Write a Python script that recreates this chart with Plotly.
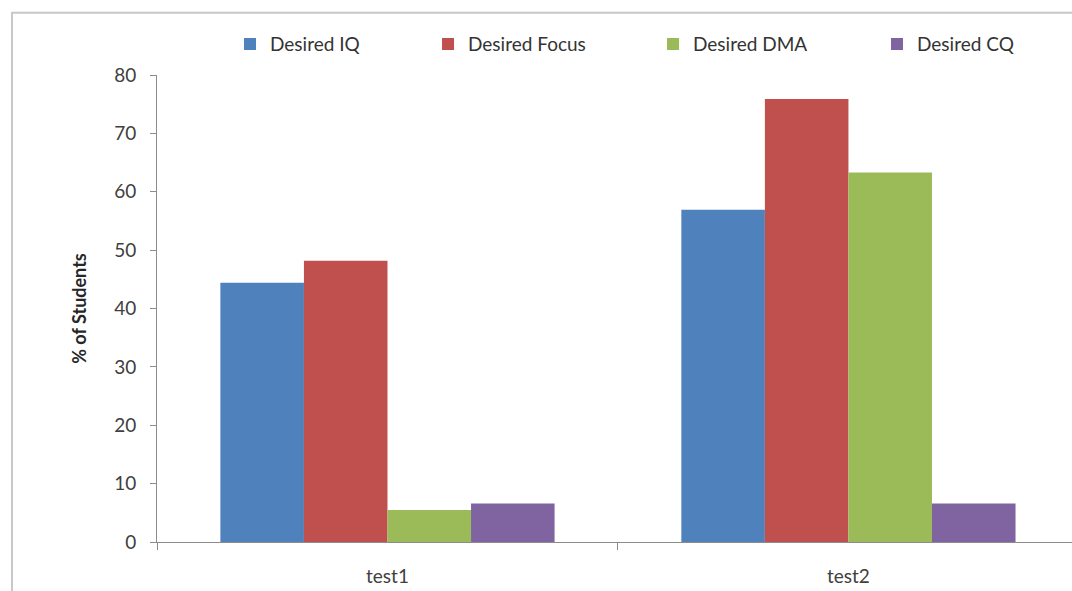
import plotly.graph_objects as go

# Survey results: share of students per desired trait, for two tests
categories = ["test1", "test2"]
desired_iq = [44.4, 56.9]
desired_focus = [48.2, 75.9]
desired_dma = [5.5, 63.3]
desired_cq = [6.6, 6.6]

y_ticks = [0, 10, 20, 30, 40, 50, 60, 70, 80]

series = [
    ("Desired IQ", desired_iq, "#4F81BD"),
    ("Desired Focus", desired_focus, "#C0504D"),
    ("Desired DMA", desired_dma, "#9BBB59"),
    ("Desired CQ", desired_cq, "#8064A2"),
]

# each series gets its own legend box so the entries can be spaced freely
legend_ids = ["legend", "legend2", "legend3", "legend4"]
legend_x = [0.0798, 0.2962, 0.5421, 0.7869]

fig = go.Figure()
for (name, values, color), lid in zip(series, legend_ids):
    fig.add_trace(go.Bar(
        x=categories, y=values, name=name, legend=lid,
        marker=dict(color=color, line=dict(width=0)),
    ))

font_family = "Lato, 'Open Sans', sans-serif"
axis_color = "#8c8c8c"

legend_style = dict(
    orientation="h", xanchor="left", y=1.066, yanchor="middle",
    font=dict(family=font_family, size=19, color="#333333"),
    itemwidth=30, bgcolor="rgba(0,0,0,0)",
)
legends = {lid: dict(legend_style, x=lx) for lid, lx in zip(legend_ids, legend_x)}

fig.update_layout(
    width=1072, height=591,
    margin=dict(l=157, r=0, t=75, b=49),
    paper_bgcolor="white", plot_bgcolor="white",
    barmode="group", bargap=0.275, bargroupgap=0,
    font=dict(family=font_family, size=19, color="#404040"),
    showlegend=True,
    xaxis=dict(
        range=[-0.5, 1.485],
        showline=True, linecolor=axis_color, linewidth=1,
        ticks="outside", tickson="boundaries", ticklen=7, tickcolor=axis_color,
        ticklabelstandoff=17,
        showgrid=False, zeroline=False,
        tickfont=dict(size=19, color="#404040"),
    ),
    yaxis=dict(
        range=[0, 80], tickvals=y_ticks,
        showline=True, linecolor=axis_color, linewidth=1,
        ticks="outside", ticklen=6, tickcolor=axis_color,
        ticklabelstandoff=10,
        showgrid=False, zeroline=False,
        tickfont=dict(size=19, color="#404040"),
        title=dict(text="<b>% of Students</b>", font=dict(size=18, color="#262626"), standoff=22),
    ),
    shapes=[
        dict(
            type="rect", xref="paper", yref="paper",
            x0=-0.1585, x1=1.2, y0=-0.3, y1=1.1333,
            line=dict(color="#c8c8c8", width=2), fillcolor="rgba(0,0,0,0)",
            layer="below",
        )
    ],
    **legends,
)

fig.write_html("out.html")
